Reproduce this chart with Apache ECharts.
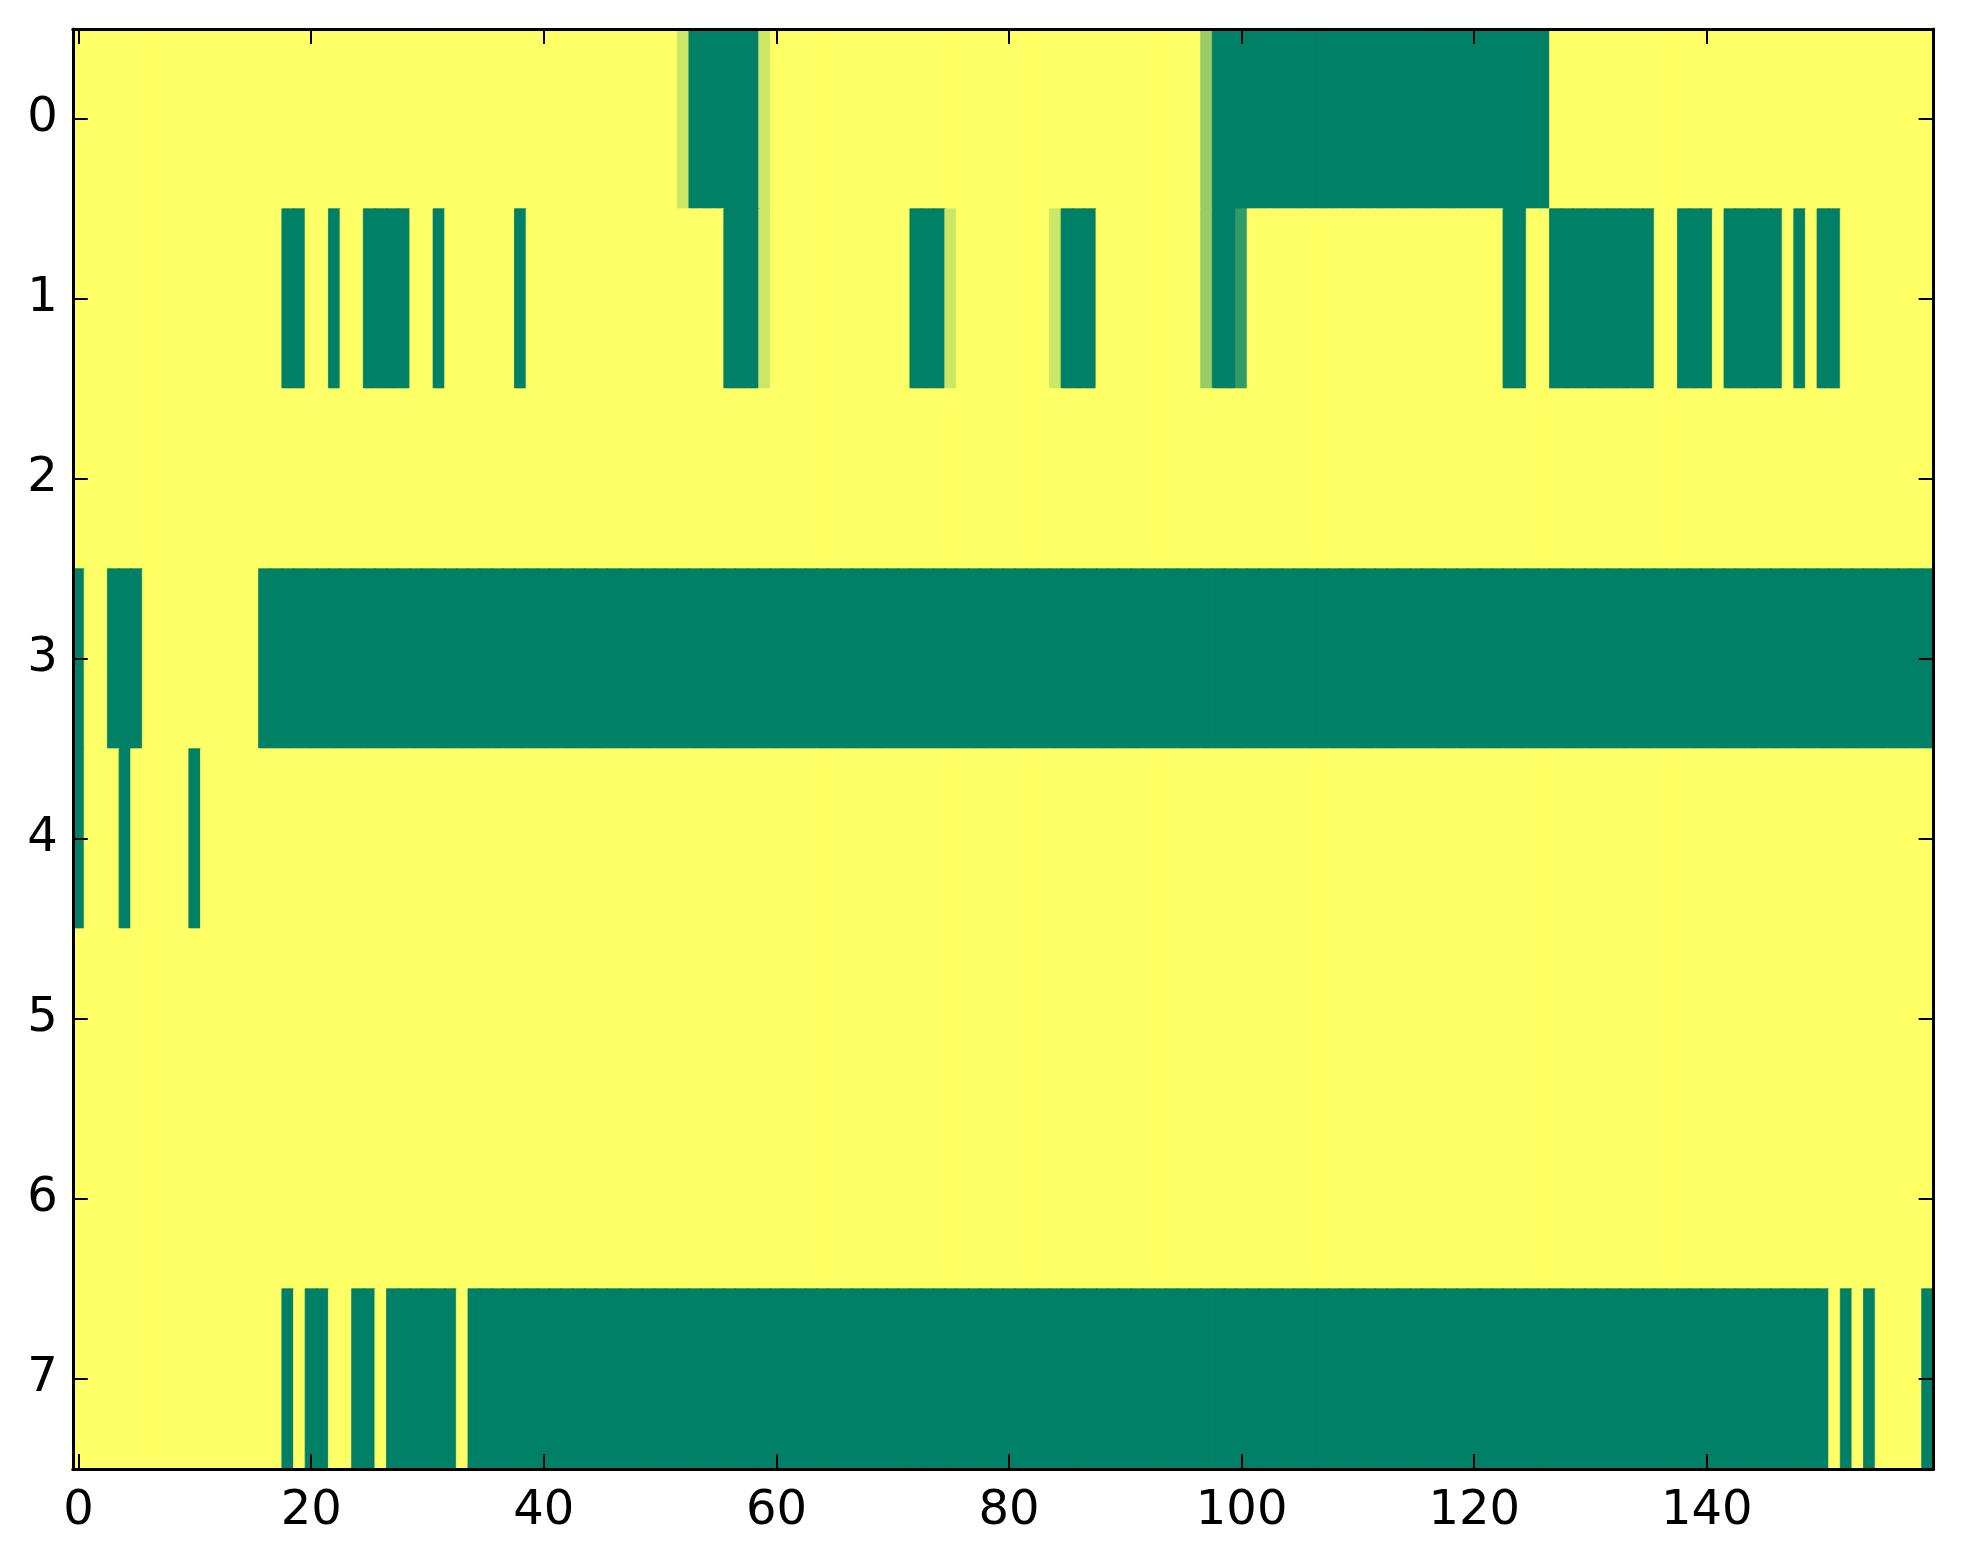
<!DOCTYPE html>
<html>
<head>
<meta charset="utf-8">
<script src="https://cdn.jsdelivr.net/npm/echarts@6/dist/echarts.min.js"></script>
<style>
html,body{margin:0;padding:0;background:#ffffff;}
#chart{width:1963px;height:1564px;}
</style>
</head>
<body>
<div id="chart"></div>
<script>
// column categories 0..159 (tick labels shown every 20)
var xCategories = ['0','1','2','3','4','5','6','7','8','9','10','11','12','13','14','15','16','17','18','19',
'20','21','22','23','24','25','26','27','28','29','30','31','32','33','34','35','36','37','38','39',
'40','41','42','43','44','45','46','47','48','49','50','51','52','53','54','55','56','57','58','59',
'60','61','62','63','64','65','66','67','68','69','70','71','72','73','74','75','76','77','78','79',
'80','81','82','83','84','85','86','87','88','89','90','91','92','93','94','95','96','97','98','99',
'100','101','102','103','104','105','106','107','108','109','110','111','112','113','114','115','116','117','118','119',
'120','121','122','123','124','125','126','127','128','129','130','131','132','133','134','135','136','137','138','139',
'140','141','142','143','144','145','146','147','148','149','150','151','152','153','154','155','156','157','158','159'];
var yCategories = ['0','1','2','3','4','5','6','7'];

var row0 = [
1,1,1,1,1,1,1,1,1,1,1,1,1,1,1,1,1,1,1,1,
1,1,1,1,1,1,1,1,1,1,1,1,1,1,1,1,1,1,1,1,
1,1,1,1,1,1,1,1,1,1,1,1,0.8,0,0,0,0,0,0,0.8,
1,1,1,1,1,1,1,1,1,1,1,1,1,1,1,1,1,1,1,1,
1,1,1,1,1,1,1,1,1,1,1,1,1,1,1,1,1,0.6,0,0,
0,0,0,0,0,0,0,0,0,0,0,0,0,0,0,0,0,0,0,0,
0,0,0,0,0,0,0,1,1,1,1,1,1,1,1,1,1,1,1,1,
1,1,1,1,1,1,1,1,1,1,1,1,1,1,1,1,1,1,1,1];
var row1 = [
1,1,1,1,1,1,1,1,1,1,1,1,1,1,1,1,1,1,0,0,
1,1,0,1,1,0,0,0,0,1,1,0,1,1,1,1,1,1,0,1,
1,1,1,1,1,1,1,1,1,1,1,1,1,1,1,1,0,0,0,0.8,
1,1,1,1,1,1,1,1,1,1,1,1,0,0,0,0.8,1,1,1,1,
1,1,1,1,0.8,0,0,0,1,1,1,1,1,1,1,1,1,0.6,0,0,
0.2,1,1,1,1,1,1,1,1,1,1,1,1,1,1,1,1,1,1,1,
1,1,1,0,0,1,1,0,0,0,0,0,0,0,0,0,1,1,0,0,
0,1,0,0,0,0,0,1,0,1,0,0,1,1,1,1,1,1,1,1];
var row2 = [
1,1,1,1,1,1,1,1,1,1,1,1,1,1,1,1,1,1,1,1,
1,1,1,1,1,1,1,1,1,1,1,1,1,1,1,1,1,1,1,1,
1,1,1,1,1,1,1,1,1,1,1,1,1,1,1,1,1,1,1,1,
1,1,1,1,1,1,1,1,1,1,1,1,1,1,1,1,1,1,1,1,
1,1,1,1,1,1,1,1,1,1,1,1,1,1,1,1,1,1,1,1,
1,1,1,1,1,1,1,1,1,1,1,1,1,1,1,1,1,1,1,1,
1,1,1,1,1,1,1,1,1,1,1,1,1,1,1,1,1,1,1,1,
1,1,1,1,1,1,1,1,1,1,1,1,1,1,1,1,1,1,1,1];
var row3 = [
0,1,1,0,0,0,1,1,1,1,1,1,1,1,1,1,0,0,0,0,
0,0,0,0,0,0,0,0,0,0,0,0,0,0,0,0,0,0,0,0,
0,0,0,0,0,0,0,0,0,0,0,0,0,0,0,0,0,0,0,0,
0,0,0,0,0,0,0,0,0,0,0,0,0,0,0,0,0,0,0,0,
0,0,0,0,0,0,0,0,0,0,0,0,0,0,0,0,0,0,0,0,
0,0,0,0,0,0,0,0,0,0,0,0,0,0,0,0,0,0,0,0,
0,0,0,0,0,0,0,0,0,0,0,0,0,0,0,0,0,0,0,0,
0,0,0,0,0,0,0,0,0,0,0,0,0,0,0,0,0,0,0,0];
var row4 = [
0,1,1,1,0,1,1,1,1,1,0,1,1,1,1,1,1,1,1,1,
1,1,1,1,1,1,1,1,1,1,1,1,1,1,1,1,1,1,1,1,
1,1,1,1,1,1,1,1,1,1,1,1,1,1,1,1,1,1,1,1,
1,1,1,1,1,1,1,1,1,1,1,1,1,1,1,1,1,1,1,1,
1,1,1,1,1,1,1,1,1,1,1,1,1,1,1,1,1,1,1,1,
1,1,1,1,1,1,1,1,1,1,1,1,1,1,1,1,1,1,1,1,
1,1,1,1,1,1,1,1,1,1,1,1,1,1,1,1,1,1,1,1,
1,1,1,1,1,1,1,1,1,1,1,1,1,1,1,1,1,1,1,1];
var row5 = [
1,1,1,1,1,1,1,1,1,1,1,1,1,1,1,1,1,1,1,1,
1,1,1,1,1,1,1,1,1,1,1,1,1,1,1,1,1,1,1,1,
1,1,1,1,1,1,1,1,1,1,1,1,1,1,1,1,1,1,1,1,
1,1,1,1,1,1,1,1,1,1,1,1,1,1,1,1,1,1,1,1,
1,1,1,1,1,1,1,1,1,1,1,1,1,1,1,1,1,1,1,1,
1,1,1,1,1,1,1,1,1,1,1,1,1,1,1,1,1,1,1,1,
1,1,1,1,1,1,1,1,1,1,1,1,1,1,1,1,1,1,1,1,
1,1,1,1,1,1,1,1,1,1,1,1,1,1,1,1,1,1,1,1];
var row6 = [
1,1,1,1,1,1,1,1,1,1,1,1,1,1,1,1,1,1,1,1,
1,1,1,1,1,1,1,1,1,1,1,1,1,1,1,1,1,1,1,1,
1,1,1,1,1,1,1,1,1,1,1,1,1,1,1,1,1,1,1,1,
1,1,1,1,1,1,1,1,1,1,1,1,1,1,1,1,1,1,1,1,
1,1,1,1,1,1,1,1,1,1,1,1,1,1,1,1,1,1,1,1,
1,1,1,1,1,1,1,1,1,1,1,1,1,1,1,1,1,1,1,1,
1,1,1,1,1,1,1,1,1,1,1,1,1,1,1,1,1,1,1,1,
1,1,1,1,1,1,1,1,1,1,1,1,1,1,1,1,1,1,1,1];
var row7 = [
1,1,1,1,1,1,1,1,1,1,1,1,1,1,1,1,1,1,0,1,
0,0,1,1,0,0,1,0,0,0,0,0,0,1,0,0,0,0,0,0,
0,0,0,0,0,0,0,0,0,0,0,0,0,0,0,0,0,0,0,0,
0,0,0,0,0,0,0,0,0,0,0,0,0,0,0,0,0,0,0,0,
0,0,0,0,0,0,0,0,0,0,0,0,0,0,0,0,0,0,0,0,
0,0,0,0,0,0,0,0,0,0,0,0,0,0,0,0,0,0,0,0,
0,0,0,0,0,0,0,0,0,0,0,0,0,0,0,0,0,0,0,0,
0,0,0,0,0,0,0,0,0,0,0,1,0,1,0,1,1,1,1,0];

var rows = [row0, row1, row2, row3, row4, row5, row6, row7];

// "summer" colour map: value 0 -> green, 1 -> yellow
function summer(v) {
  var r = Math.round(255 * v);
  var g = Math.round(255 * (0.5 + 0.5 * v));
  var b = 102;
  return 'rgb(' + r + ',' + g + ',' + b + ')';
}

var cells = [];
for (var r = 0; r < rows.length; r++) {
  for (var c = 0; c < rows[r].length; c++) {
    var col = summer(rows[r][c]);
    cells.push({ value: [c, r, rows[r][c]], itemStyle: { color: col, borderColor: col, borderWidth: 0.8 } });
  }
}

var FONT = 'DejaVu Sans';
var every20 = function (i) { return i % 20 === 0; };
var axisLineStyle = { color: '#000000', width: 3 };
var tickStyle = { color: '#000000', width: 2 };

var chart = echarts.init(document.getElementById('chart'), null, { renderer: 'canvas' });
chart.setOption({
  backgroundColor: '#ffffff',
  animation: false,
  grid: { left: 72.8, right: 29.4, top: 29, bottom: 95 },
  xAxis: [{
    type: 'category', data: xCategories, position: 'bottom', z: 10,
    axisLine: { show: true, lineStyle: axisLineStyle },
    axisTick: { show: true, inside: true, length: 15, alignWithLabel: true, interval: every20, lineStyle: tickStyle },
    axisLabel: { show: true, interval: every20, color: '#000000', fontFamily: FONT, fontSize: 48, margin: 19 },
    splitLine: { show: false }
  }, {
    type: 'category', data: xCategories, position: 'top', z: 10,
    axisLine: { show: true, lineStyle: axisLineStyle },
    axisTick: { show: true, inside: true, length: 15, alignWithLabel: true, interval: every20, lineStyle: tickStyle },
    axisLabel: { show: false },
    splitLine: { show: false }
  }],
  yAxis: [{
    type: 'category', data: yCategories, inverse: true, position: 'left', z: 10,
    axisLine: { show: true, lineStyle: axisLineStyle },
    axisTick: { show: true, inside: true, length: 15, alignWithLabel: true, lineStyle: tickStyle },
    axisLabel: { show: true, color: '#000000', fontFamily: FONT, fontSize: 48, margin: 15, padding: [8, 0, 0, 0] },
    splitLine: { show: false }
  }, {
    type: 'category', data: yCategories, inverse: true, position: 'right', z: 10,
    axisLine: { show: true, lineStyle: axisLineStyle },
    axisTick: { show: true, inside: true, length: 15, alignWithLabel: true, lineStyle: tickStyle },
    axisLabel: { show: false },
    splitLine: { show: false }
  }],
  series: [{
    type: 'heatmap', xAxisIndex: 0, yAxisIndex: 0,
    data: cells,
    emphasis: { disabled: true },
    z: 1
  }]
});
</script>
</body>
</html>
